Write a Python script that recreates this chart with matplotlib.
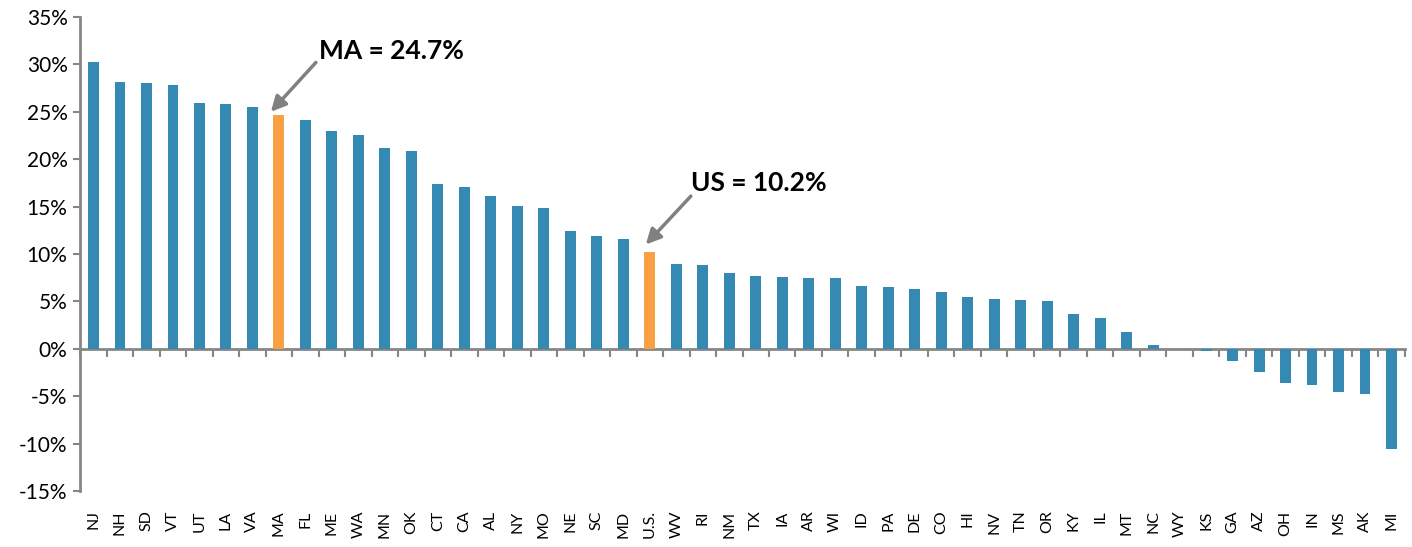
import numpy as np
from matplotlib import pyplot as plt
from matplotlib.ticker import FuncFormatter

states = ['NJ', 'NH', 'SD', 'VT', 'UT', 'LA', 'VA', 'MA', 'FL', 'ME', 'WA', 'MN', 'OK',
          'CT', 'CA', 'AL', 'NY', 'MO', 'NE', 'SC', 'MD', 'U.S.', 'WV', 'RI', 'NM', 'TX',
          'IA', 'AR', 'WI', 'ID', 'PA', 'DE', 'CO', 'HI', 'NV', 'TN', 'OR', 'KY', 'IL',
          'MT', 'NC', 'WY', 'KS', 'GA', 'AZ', 'OH', 'IN', 'MS', 'AK', 'MI']
change = [30.3, 28.1, 28.0, 27.8, 25.9, 25.8, 25.5, 24.7, 24.1, 23.0, 22.6, 21.2, 20.9,
          17.4, 17.1, 16.1, 15.1, 14.9, 12.4, 11.9, 11.6, 10.2, 8.9, 8.8, 8.0, 7.7,
          7.6, 7.5, 7.5, 6.6, 6.5, 6.3, 6.0, 5.5, 5.2, 5.1, 5.0, 3.7, 3.2,
          1.8, 0.4, 0.0, -0.2, -1.3, -2.5, -3.6, -3.8, -4.6, -4.8, -10.6]
highlight = ['MA', 'U.S.']

blue = '#348ab3'
orange = '#f9a044'
gray = '#868686'

plt.rcParams['font.family'] = ['Lato', 'DejaVu Sans']

fig = plt.figure(figsize=(14.12, 5.47), dpi=100)
ax = fig.add_axes([0.0567, 0.1024, 0.9383, 0.8666])

x = np.arange(len(states))
colors = [orange if s in highlight else blue for s in states]
ax.bar(x, change, width=0.4, color=colors, zorder=2)

ymin, ymax = -15, 35
ax.set_ylim(ymin, ymax)
ax.set_xlim(-0.5, len(states) - 0.5)
ax.set_yticks(np.arange(ymin, ymax + 1, 5))
ax.yaxis.set_major_formatter(FuncFormatter(lambda v, p: f'{v:.0f}%'))
ax.tick_params(axis='y', labelsize=15, length=5, width=1.5, color=gray, pad=4)

# category labels along the bottom
ax.set_xticks(x)
ax.set_xticklabels(states, rotation=90, fontsize=11.5)
ax.tick_params(axis='x', length=0, pad=14)

for side in ['top', 'right', 'bottom']:
    ax.spines[side].set_visible(False)
ax.spines['left'].set_color(gray)
ax.spines['left'].set_linewidth(2)

# zero line with tick marks between categories
zero = ax.secondary_xaxis((0 - ymin) / (ymax - ymin))
zero.set_xticks(np.arange(len(states) + 1) - 0.5)
zero.tick_params(axis='x', labelbottom=False, length=6, width=1.5, color=gray, direction='out')
zero.spines['bottom'].set_color(gray)
zero.spines['bottom'].set_linewidth(2)

arrow = dict(arrowstyle='-|>,head_length=0.9,head_width=0.45', color='#808080', lw=2.5,
             shrinkA=0, shrinkB=0)
ax.annotate('', xy=(6.7, 25.0), xytext=(8.4, 30.2), arrowprops=arrow)
ax.text(8.5, 31.4, 'MA = 24.7%', fontsize=19, fontweight='bold', va='center', ha='left')
ax.annotate('', xy=(20.85, 11.0), xytext=(22.55, 16.1), arrowprops=arrow)
ax.text(22.55, 17.5, 'US = 10.2%', fontsize=19, fontweight='bold', va='center', ha='left')

fig.savefig('out.png', dpi=100)
